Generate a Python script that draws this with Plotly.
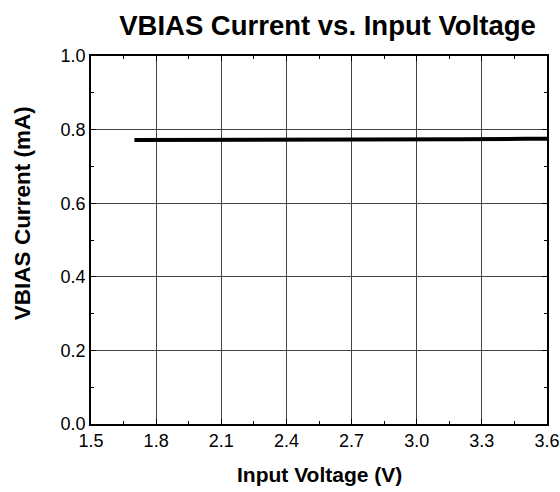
import plotly.graph_objects as go

voltage = [1.7, 2.0, 2.3, 2.6, 2.9, 3.2, 3.5, 3.6]
current = [0.772, 0.772, 0.773, 0.773, 0.774, 0.774, 0.775, 0.775]

x_ticks = [1.5, 1.8, 2.1, 2.4, 2.7, 3.0, 3.3, 3.6]
x_tick_labels = ["1.5", "1.8", "2.1", "2.4", "2.7", "3.0", "3.3", "3.6"]
y_ticks = [0.0, 0.2, 0.4, 0.6, 0.8, 1.0]
y_tick_labels = ["0.0", "0.2", "0.4", "0.6", "0.8", "1.0"]

fig = go.Figure()
fig.add_trace(go.Scatter(x=voltage, y=current, mode="lines",
                         line=dict(color="black", width=4), showlegend=False))

font = "Liberation Sans, Arial, sans-serif"
W, H = 560, 492
fig.update_layout(
    width=W, height=H,
    margin=dict(l=91, r=13, t=56, b=68),
    paper_bgcolor="white", plot_bgcolor="white",
    font=dict(family=font, color="black", size=18),
    title=dict(text="<b>VBIAS Current vs. Input Voltage</b>",
               x=327.5/W, xref="container", xanchor="center",
               y=1-25/H, yref="container", yanchor="middle",
               font=dict(size=27.5, family=font, color="black")),
    annotations=[
        dict(text="<b>Input Voltage (V)</b>", xref="paper", yref="paper",
             x=0.5, y=0, xanchor="center", yanchor="middle", yshift=-50,
             showarrow=False, font=dict(size=21, family=font, color="black")),
        dict(text="<b>VBIAS Current (mA)</b>", xref="paper", yref="paper",
             x=0, y=0.573, xanchor="center", yanchor="middle", xshift=-69,
             textangle=-90, showarrow=False,
             font=dict(size=22.5, family=font, color="black")),
    ],
)
fig.update_xaxes(
    range=[1.5, 3.6], tickvals=x_ticks, ticktext=x_tick_labels,
    showline=True, linecolor="black", linewidth=1.5, mirror="allticks",
    ticks="inside", ticklen=5, tickcolor="black", automargin=False,
    showgrid=True, gridcolor="#444", gridwidth=1, zeroline=False,
    minor=dict(dtick=0.15, tick0=1.5, ticks="inside", ticklen=3, tickcolor="black", showgrid=False),
    tickfont=dict(size=18),
)
fig.update_yaxes(
    range=[0, 1.0], tickvals=y_ticks, ticktext=y_tick_labels,
    showline=True, linecolor="black", linewidth=1.5, mirror="allticks",
    ticks="inside", ticklen=5, tickcolor="black", automargin=False,
    showgrid=True, gridcolor="#444", gridwidth=1, zeroline=False,
    minor=dict(dtick=0.1, tick0=0, ticks="inside", ticklen=3, tickcolor="black", showgrid=False),
    tickfont=dict(size=18),
)
fig.write_html("out.html", config={"displayModeBar": False},
               post_script="document.body.style.margin='0';document.body.style.overflow='hidden';")
